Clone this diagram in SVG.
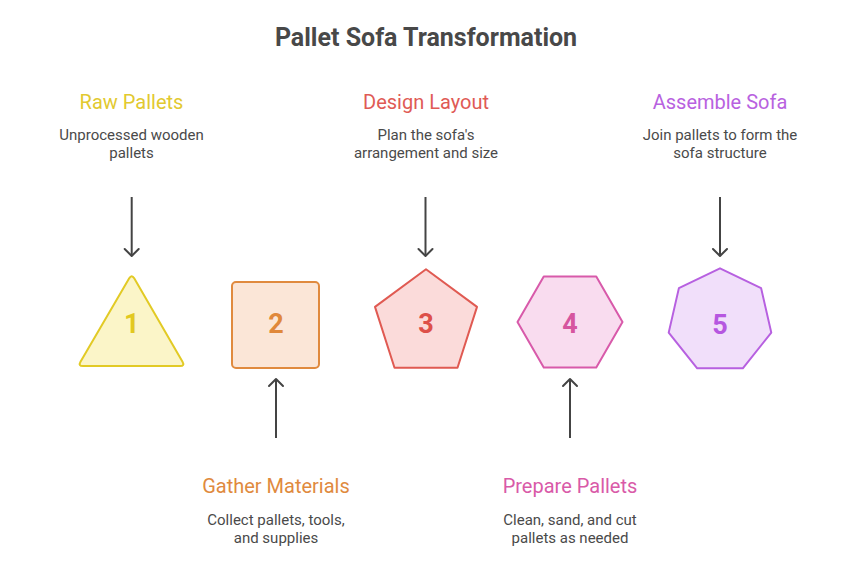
<svg xmlns="http://www.w3.org/2000/svg" width="852" height="567" viewBox="0 0 852 567">
<defs>
<style>
text{font-family:Roboto,"Liberation Sans",sans-serif;text-anchor:middle}
.title{font-size:25px;font-weight:bold;fill:#484848}
.lbl{font-size:20px}
.desc{font-size:15px;fill:#4a4a4a}
.num{font-size:27px;font-weight:bold}
.shape{stroke-width:2;stroke-linejoin:round}
.conn{stroke:#444;stroke-width:2;fill:none}
</style>
<marker id="arr" viewBox="0 0 20 20" refX="10" refY="10" markerWidth="20" markerHeight="20" markerUnits="userSpaceOnUse" orient="auto">
<path d="M3,3 L10,10 L3,17" fill="none" stroke="#444" stroke-width="2" stroke-linecap="round" stroke-linejoin="round"/>
</marker>
</defs>
<rect width="852" height="567" fill="#fff"/>
<text class="title" x="426" y="46">Pallet Sofa Transformation</text>

<g id="connectors">
<line class="conn" x1="131.7" y1="197" x2="131.7" y2="256" marker-end="url(#arr)"/>
<line class="conn" x1="425.5" y1="197" x2="425.5" y2="256" marker-end="url(#arr)"/>
<line class="conn" x1="720" y1="197" x2="720" y2="256" marker-end="url(#arr)"/>
<line class="conn" x1="276" y1="438" x2="276" y2="379" marker-end="url(#arr)"/>
<line class="conn" x1="570" y1="438" x2="570" y2="379" marker-end="url(#arr)"/>
</g>

<g id="node1">
<path class="shape" d="M129.2,278.3 Q131.7,274 134.2,278.3 L182.5,361.7 Q185,366 180,366 L83,366 Q78,366 80.5,361.7 Z" fill="#fbf5c8" stroke="#e2ca25"/>
<text class="num" x="131.7" y="333" fill="#e2c820">1</text>
<text class="lbl" x="131.5" y="109" fill="#e2c930">Raw Pallets</text>
<text class="desc" x="131.5" y="140">Unprocessed wooden</text>
<text class="desc" x="131.5" y="158">pallets</text>
</g>

<g id="node2">
<rect class="shape" x="232" y="282" width="87" height="86" rx="4" fill="#fbe6d7" stroke="#e08a3e"/>
<text class="num" x="276" y="333" fill="#e0883a">2</text>
<text class="lbl" x="276" y="493" fill="#e08a3e">Gather Materials</text>
<text class="desc" x="276" y="525">Collect pallets, tools,</text>
<text class="desc" x="276" y="543">and supplies</text>
</g>

<g id="node3">
<polygon class="shape" points="426,269.3 477,306.9 457.5,367.7 394.5,367.7 375,306.9" fill="#fbdbda" stroke="#e05a52"/>
<text class="num" x="426" y="333" fill="#dd5049">3</text>
<text class="lbl" x="426" y="109" fill="#e05a55">Design Layout</text>
<text class="desc" x="426" y="140">Plan the sofa's</text>
<text class="desc" x="426" y="158">arrangement and size</text>
</g>

<g id="node4">
<polygon class="shape" points="517.5,322 543.75,276.5 596.25,276.5 622.5,322 596.25,367.5 543.75,367.5" fill="#f9dcef" stroke="#d85aaa"/>
<text class="num" x="570" y="333" fill="#d6559f">4</text>
<text class="lbl" x="570" y="493" fill="#d95aa8">Prepare Pallets</text>
<text class="desc" x="570" y="525">Clean, sand, and cut</text>
<text class="desc" x="570" y="543">pallets as needed</text>
</g>

<g id="node5">
<polygon class="shape" points="720,268.3 761.1,288.1 771.3,332.6 742.8,368.3 697.2,368.3 668.7,332.6 678.9,288.1" fill="#f1dffa" stroke="#b760e0"/>
<text class="num" x="720" y="334" fill="#b657e0">5</text>
<text class="lbl" x="720" y="109" fill="#b862e0">Assemble Sofa</text>
<text class="desc" x="720" y="140">Join pallets to form the</text>
<text class="desc" x="720" y="158">sofa structure</text>
</g>
</svg>
